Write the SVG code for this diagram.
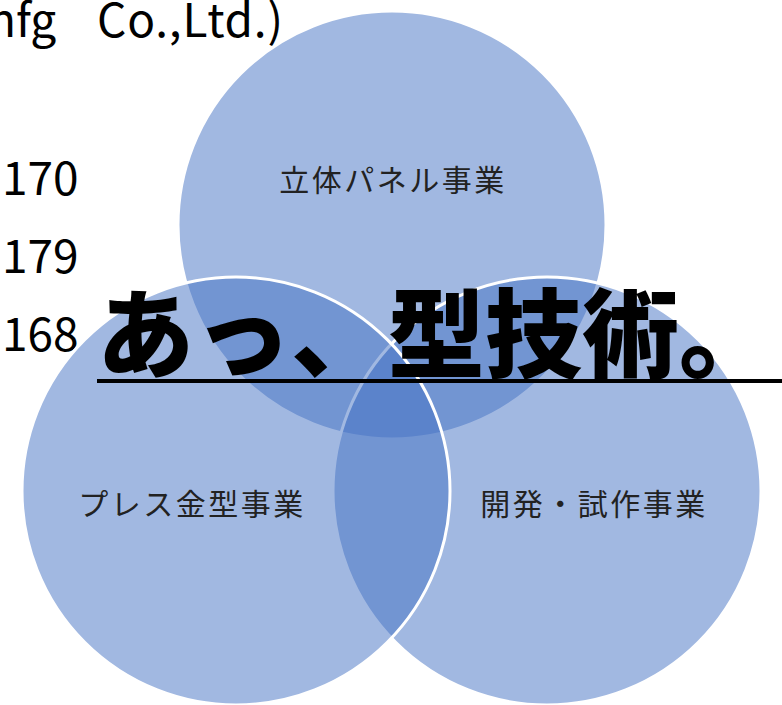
<svg xmlns="http://www.w3.org/2000/svg" width="782" height="705" viewBox="0 0 782 705">
<style>
.c{fill:#4472C4;fill-opacity:0.5;stroke:#FFFFFF;stroke-width:3}
.lbl{font-family:"Noto Sans CJK JP","Noto Sans",sans-serif;font-size:30px;letter-spacing:2.5px;fill:#222222;text-anchor:middle}
.num{font-family:"Noto Sans CJK JP","Noto Sans",sans-serif;font-size:46px;fill:#000}
.big{font-family:"Noto Sans CJK JP",serif;font-size:97px;font-weight:900;fill:#000}
</style>
<rect width="782" height="705" fill="#FFFFFF"/>
<g id="text-left">
<text class="num" x="-12" y="37"><tspan>nfg</tspan><tspan x="97" textLength="186" lengthAdjust="spacing">Co.,Ltd.)</tspan></text>
<text class="num" x="2" y="195">170</text>
<text class="num" x="2" y="273">179</text>
<text class="num" x="2" y="351">168</text>
</g>
<g id="node-top"><circle class="c" cx="392" cy="225" r="214"/></g>
<g id="node-right"><circle class="c" cx="547" cy="491" r="214"/></g>
<g id="node-left"><circle class="c" cx="236" cy="491" r="214"/></g>
<g id="labels">
<text class="lbl" x="393" y="191">立体パネル事業</text>
<text class="lbl" x="192" y="515">プレス金型事業</text>
<text class="lbl" x="594" y="515">開発・試作事業</text>
</g>
<g id="connectors"></g>
<g id="title">
<text class="big" x="97" y="370">あっ、型技術。</text>
<line x1="97" y1="381" x2="782" y2="381" stroke="#000" stroke-width="4"/>
</g>
</svg>
